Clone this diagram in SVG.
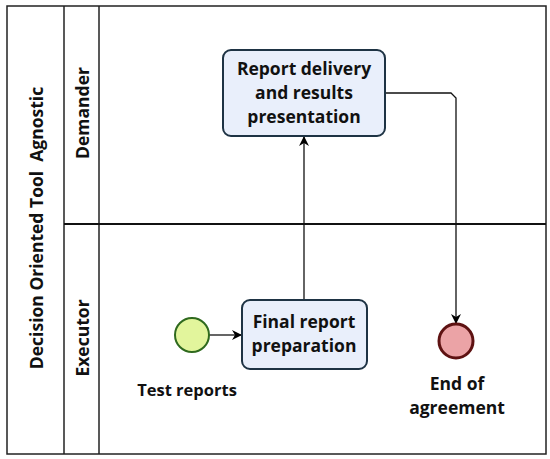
<svg xmlns="http://www.w3.org/2000/svg" width="550" height="459" viewBox="0 0 550 459">
<defs>
<marker id="arr" markerWidth="10" markerHeight="10" refX="9" refY="5" orient="auto" markerUnits="userSpaceOnUse">
<path d="M0,0 L10,5 L0,10 L3,5 Z" fill="#000"/>
</marker>
<style>
.lbl{font-family:"Open Sans","Liberation Sans",sans-serif;font-weight:bold;font-size:17.5px;fill:#111;text-anchor:middle}
.task{fill:#E9EFFB;stroke:#1E3344;stroke-width:2}
.ln{stroke:#111;fill:none;stroke-width:1.3}
.frame{fill:none;stroke:#222;stroke-width:1.5}
</style>
</defs>
<rect width="550" height="459" fill="#fff"/>
<g id="pool">
<rect class="frame" x="7" y="6" width="539" height="448"/>
<line class="frame" x1="64" y1="6" x2="64" y2="454"/>
<line class="frame" x1="99" y1="6" x2="99" y2="454"/>
<line x1="64" y1="224" x2="546" y2="224" stroke="#111" stroke-width="2"/>
<text class="lbl" transform="translate(43,228) rotate(-90)" style="white-space:pre">Decision Oriented Tool  Agnostic</text>
</g>
<g id="lane-demander">
<text class="lbl" transform="translate(89,113) rotate(-90)">Demander</text>
</g>
<g id="lane-executor">
<text class="lbl" transform="translate(89,338) rotate(-90)">Executor</text>
</g>
<g id="connectors">
<line class="ln" x1="209" y1="335" x2="241" y2="335" marker-end="url(#arr)"/>
<line class="ln" x1="304" y1="300" x2="304" y2="137" marker-end="url(#arr)"/>
<path class="ln" d="M385,93 L451,93 L456,98 L456,323" marker-end="url(#arr)"/>
</g>
<g id="task-report-delivery">
<rect class="task" x="223" y="50" width="162" height="86" rx="8"/>
<text class="lbl" x="304" y="75">Report delivery</text>
<text class="lbl" x="304" y="99">and results</text>
<text class="lbl" x="304" y="123">presentation</text>
</g>
<g id="task-final-report">
<rect class="task" x="242" y="300" width="125" height="69" rx="8"/>
<text class="lbl" x="304" y="328">Final report</text>
<text class="lbl" x="304" y="352">preparation</text>
</g>
<g id="start-event">
<circle cx="192" cy="335" r="17" fill="#E2F59C" stroke="#2F6A1E" stroke-width="2"/>
<text class="lbl" x="187" y="396" style="font-size:16.5px">Test reports</text>
</g>
<g id="end-event">
<circle cx="456" cy="341" r="17" fill="#EBA3A6" stroke="#5E1212" stroke-width="3"/>
<text class="lbl" x="457" y="390">End of</text>
<text class="lbl" x="457" y="414">agreement</text>
</g>
</svg>
